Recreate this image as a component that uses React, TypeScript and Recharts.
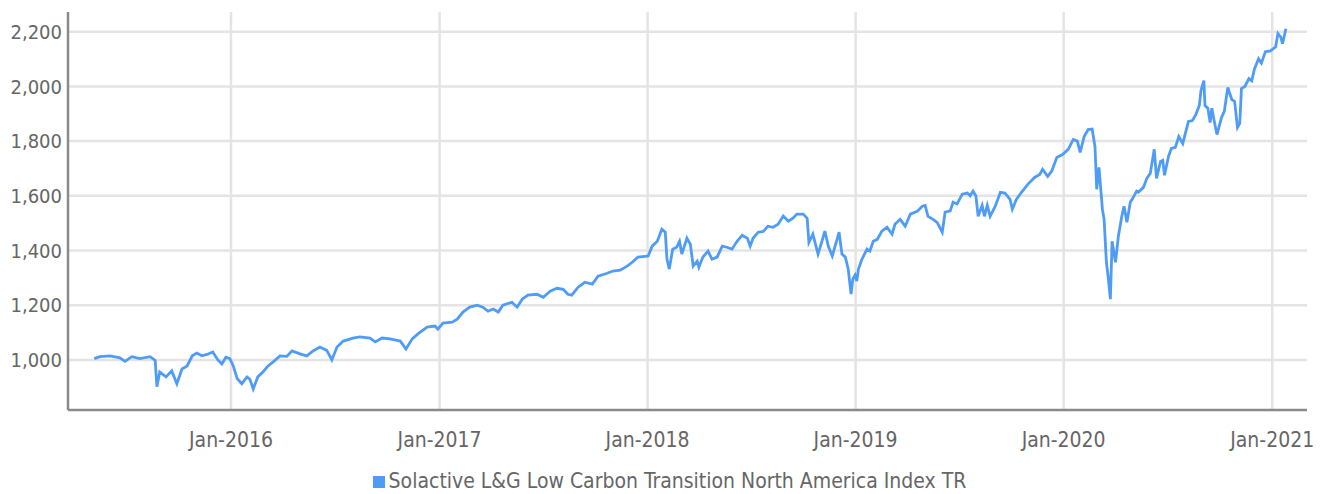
import React from 'react';
import {
  CartesianGrid,
  Legend,
  Line,
  LineChart,
  XAxis,
  YAxis,
} from 'recharts';

// readings, ~weekly around the swings
const dates = [
  '2015-05-06', '2015-05-16', '2015-06-03', '2015-06-20', '2015-06-29', '2015-07-11', '2015-07-25',
  '2015-08-12', '2015-08-21', '2015-08-24', '2015-08-29', '2015-09-09', '2015-09-19', '2015-09-28',
  '2015-10-07', '2015-10-16', '2015-10-25', '2015-11-02', '2015-11-11', '2015-11-20', '2015-11-30',
  '2015-12-09', '2015-12-16', '2015-12-23', '2015-12-30',
  '2016-01-05', '2016-01-12', '2016-01-20', '2016-01-29', '2016-02-03', '2016-02-09', '2016-02-17',
  '2016-02-26', '2016-03-06', '2016-03-15', '2016-03-27', '2016-04-08', '2016-04-17', '2016-05-01',
  '2016-05-13', '2016-05-24', '2016-06-05', '2016-06-17', '2016-06-26', '2016-07-05', '2016-07-16',
  '2016-08-02', '2016-08-14', '2016-09-01', '2016-09-10', '2016-09-22', '2016-10-06', '2016-10-24',
  '2016-11-03', '2016-11-14', '2016-11-24', '2016-12-10', '2016-12-24', '2016-12-29',
  '2017-01-07', '2017-01-23', '2017-02-01', '2017-02-11', '2017-02-23', '2017-03-08', '2017-03-18',
  '2017-03-27', '2017-04-05', '2017-04-14', '2017-04-22', '2017-05-08', '2017-05-17', '2017-05-26',
  '2017-06-05', '2017-06-21', '2017-07-02', '2017-07-14', '2017-07-26', '2017-08-06', '2017-08-14',
  '2017-08-21', '2017-09-01', '2017-09-13', '2017-09-26', '2017-10-06', '2017-10-22', '2017-11-01',
  '2017-11-14', '2017-11-26', '2017-12-05', '2017-12-15', '2017-12-28',
  '2018-01-02', '2018-01-09', '2018-01-18', '2018-01-26', '2018-02-01', '2018-02-04', '2018-02-08',
  '2018-02-14', '2018-02-21', '2018-02-26', '2018-03-02', '2018-03-11', '2018-03-17', '2018-03-22',
  '2018-03-29', '2018-04-01', '2018-04-08', '2018-04-17', '2018-04-24', '2018-05-03', '2018-05-12',
  '2018-05-20', '2018-05-29', '2018-06-07', '2018-06-16', '2018-06-25', '2018-06-30', '2018-07-05',
  '2018-07-14', '2018-07-23', '2018-07-31', '2018-08-09', '2018-08-18', '2018-08-27', '2018-09-05',
  '2018-09-13', '2018-09-20', '2018-10-01', '2018-10-08', '2018-10-11', '2018-10-18', '2018-10-27',
  '2018-11-03', '2018-11-08', '2018-11-14', '2018-11-21', '2018-11-26', '2018-12-03', '2018-12-08',
  '2018-12-14', '2018-12-19', '2018-12-24', '2018-12-27', '2018-12-31',
  '2019-01-03', '2019-01-06', '2019-01-12', '2019-01-21', '2019-01-26', '2019-02-01', '2019-02-08',
  '2019-02-16', '2019-02-25', '2019-03-06', '2019-03-11', '2019-03-20', '2019-03-29', '2019-04-07',
  '2019-04-19', '2019-04-28', '2019-05-03', '2019-05-08', '2019-05-17', '2019-05-24', '2019-06-02',
  '2019-06-07', '2019-06-16', '2019-06-21', '2019-06-28', '2019-07-07', '2019-07-16', '2019-07-21',
  '2019-07-26', '2019-07-31', '2019-08-04', '2019-08-11', '2019-08-15', '2019-08-20', '2019-08-25',
  '2019-09-03', '2019-09-12', '2019-09-20', '2019-09-29', '2019-10-03', '2019-10-10', '2019-10-19',
  '2019-10-30', '2019-11-11', '2019-11-20', '2019-11-25', '2019-12-04', '2019-12-11', '2019-12-20',
  '2019-12-30',
  '2020-01-09', '2020-01-18', '2020-01-25', '2020-01-30', '2020-02-06', '2020-02-13', '2020-02-20',
  '2020-02-25', '2020-02-28', '2020-03-03', '2020-03-09', '2020-03-12', '2020-03-16', '2020-03-19',
  '2020-03-23', '2020-03-26', '2020-04-01', '2020-04-06', '2020-04-12', '2020-04-16', '2020-04-21',
  '2020-04-27', '2020-05-01', '2020-05-08', '2020-05-11', '2020-05-20', '2020-05-26', '2020-06-01',
  '2020-06-08', '2020-06-12', '2020-06-19', '2020-06-23', '2020-06-26', '2020-07-03', '2020-07-08',
  '2020-07-15', '2020-07-21', '2020-07-28', '2020-08-02', '2020-08-07', '2020-08-14', '2020-08-20',
  '2020-08-26', '2020-08-29', '2020-09-03', '2020-09-05', '2020-09-10', '2020-09-14', '2020-09-17',
  '2020-09-21', '2020-09-26', '2020-10-04', '2020-10-09', '2020-10-15', '2020-10-22', '2020-10-27',
  '2020-11-01', '2020-11-05', '2020-11-08', '2020-11-14', '2020-11-21', '2020-11-26', '2020-12-01',
  '2020-12-08', '2020-12-13', '2020-12-20', '2020-12-29',
  '2021-01-07', '2021-01-11', '2021-01-16', '2021-01-19', '2021-01-25',
];

const indexValues = [
  1005, 1012, 1015, 1008, 995, 1012, 1005,
  1012, 998, 902, 956, 938, 960, 913,
  967, 978, 1015, 1025, 1015, 1020, 1029,
  1000, 985, 1010, 1005,
  978, 931, 913, 938, 930, 894, 938,
  956, 978, 993, 1015, 1013, 1033, 1022,
  1015, 1033, 1047, 1035, 1000, 1047, 1069,
  1080, 1084, 1080, 1066, 1080, 1077, 1069,
  1040, 1077, 1095, 1120, 1124, 1113,
  1135, 1138, 1149, 1175, 1193, 1200, 1193,
  1178, 1186, 1175, 1200, 1211, 1193, 1222,
  1237, 1240, 1229, 1251, 1262, 1258, 1240,
  1237, 1266, 1284, 1277, 1306, 1317, 1325,
  1328, 1343, 1357, 1376, 1379,
  1380, 1416, 1434, 1478, 1467, 1368, 1332,
  1405, 1412, 1434, 1387, 1445, 1423, 1343,
  1361, 1339, 1376, 1398, 1368, 1376, 1416,
  1412, 1405, 1434, 1456, 1445, 1416, 1445,
  1467, 1470, 1489, 1485, 1496, 1526, 1507,
  1518, 1533, 1533, 1518, 1430, 1460, 1387,
  1434, 1471, 1416, 1380, 1416, 1467, 1387,
  1376, 1332, 1241, 1295, 1310,
  1288, 1332, 1368, 1405, 1398, 1434, 1441,
  1471, 1485, 1460, 1496, 1514, 1489, 1533,
  1543, 1562, 1565, 1525, 1514, 1503, 1467,
  1540, 1545, 1577, 1570, 1606, 1610, 1600,
  1617, 1600, 1525, 1565, 1525, 1565, 1525,
  1562, 1613, 1610, 1587, 1551, 1587, 1613,
  1642, 1667, 1678, 1697, 1671, 1690, 1740,
  1751,
  1770, 1806, 1800, 1759, 1817, 1842, 1844,
  1780, 1624, 1704, 1551, 1514, 1357, 1306,
  1222, 1434, 1357, 1452, 1525, 1562, 1503,
  1577, 1590, 1617, 1613, 1631, 1664, 1682,
  1770, 1664, 1726, 1730, 1675, 1744, 1773,
  1777, 1817, 1791, 1832, 1872, 1875, 1898,
  1930, 1985, 2021, 1930, 1920, 1868, 1920,
  1875, 1824, 1886, 1910, 1996, 1952, 1945,
  1850, 1865, 1992, 2000, 2028, 2020, 2065,
  2101, 2085, 2127, 2130,
  2145, 2193, 2180, 2156, 2211,
];

const yTicks = [1000, 1200, 1400, 1600, 1800, 2000, 2200];
const xTicks = [2016, 2017, 2018, 2019, 2020, 2021].map((y) => Date.UTC(y, 0, 1));

const seriesName = 'Solactive L&G Low Carbon Transition North America Index TR';

const chartData = dates.map((d, i) => ({
  t: Date.parse(d),
  value: indexValues[i],
}));

const font = "'Liberation Sans Narrow', 'DejaVu Sans Condensed', 'Roboto Condensed', sans-serif";
const textColor = '#666666';
const axisColor = '#8a8a8a';

export default function App() {
  return (
    <div style={{ position: 'absolute', left: 0, top: 0, width: 1325, height: 494, background: '#fff' }}>
      <LineChart
        width={1325}
        height={494}
        data={chartData}
        margin={{ top: 12, right: 18, left: 8, bottom: 0 }}
      >
        <CartesianGrid
          stroke="#e4e4e4"
          strokeWidth={2.5}
          horizontalValues={yTicks}
          verticalValues={xTicks}
        />
        <XAxis
          dataKey="t"
          type="number"
          scale="time"
          domain={[Date.UTC(2015, 2, 21), Date.UTC(2021, 2, 3)]}
          ticks={xTicks}
          tickFormatter={(t: number) => 'Jan-' + new Date(t).getUTCFullYear()}
          height={50}
          tickLine={false}
          tickSize={0}
          tickMargin={22}
          axisLine={{ stroke: axisColor, strokeWidth: 2.5 }}
          tick={{ fill: textColor, fontSize: 21, fontFamily: font }}
        />
        <YAxis
          domain={[817, 2272]}
          ticks={yTicks}
          width={60}
          tickLine={false}
          tickSize={0}
          tickMargin={6}
          tickFormatter={(v: number) => v.toLocaleString('en-US')}
          axisLine={{ stroke: axisColor, strokeWidth: 2.5 }}
          tick={{ fill: textColor, fontSize: 20, fontFamily: font }}
        />
        <Legend
          verticalAlign="bottom"
          iconType="square"
          iconSize={12}
          wrapperStyle={{
            height: 34,
            paddingLeft: 17,
            fontFamily: font,
            fontSize: 21,
            color: textColor,
            lineHeight: '42px',
          }}
          formatter={(v: string) => <span style={{ color: textColor }}>{v}</span>}
        />
        <Line
          name={seriesName}
          dataKey="value"
          type="linear"
          stroke="#4f9cf6"
          strokeWidth={2.8}
          dot={false}
          isAnimationActive={false}
        />
      </LineChart>
    </div>
  );
}
